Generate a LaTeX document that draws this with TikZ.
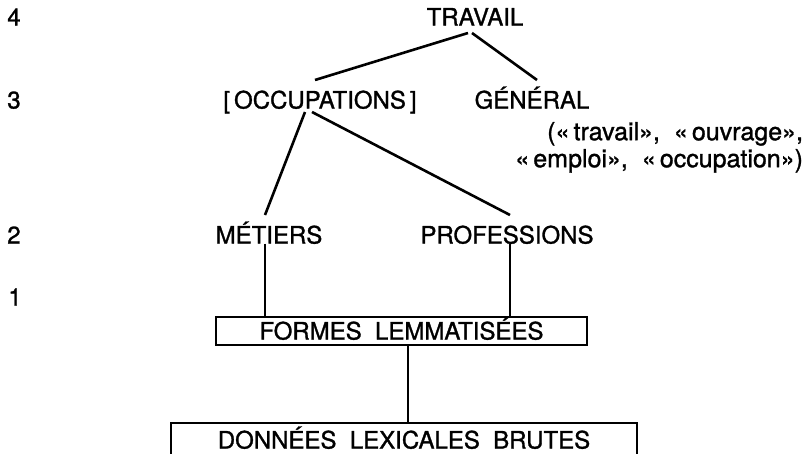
\documentclass[tikz,border=0pt]{standalone}
\usepackage{fontspec}
\setmainfont{TeX Gyre Heros}[FakeBold=1.2]

\begin{document}
\begin{tikzpicture}[x=1pt, y=-1pt, inner sep=0pt, outer sep=0pt,
  every node/.append style={font=\fontsize{24}{28}\selectfont, text height=17pt, text depth=0pt},
  lien/.style={draw=black, line width=2.6pt},
  cadre/.style={draw=black, line width=1.8pt}]
  \useasboundingbox (0,0) rectangle (808,453);

  % niveaux
  \node (niv4) at (14,17) {4};
  \node (niv3) at (14,100) {3};
  \node (niv2) at (14,235) {2};
  \node (niv1) at (15,297) {1};

  \node (travail) at (475,17) {TRAVAIL};
  \node (occupations) at (320,100) {[\,OCCUPATIONS\,]};
  \node (general) at (532,100) {GÉNÉRAL};
  \node[align=right, anchor=north east, text height=, text depth=, font=\fontsize{25}{27}\selectfont] (sens) at (803,122)
    {(«\,travail»,\ \ «\,ouvrage»,\\«\,emploi»,\ \ «\,occupation»)};

  \node (metiers) at (269,235) {MÉTIERS};
  \node (professions) at (507,235) {PROFESSIONS};

  \node[cadre, minimum width=371pt, minimum height=28pt] (formes) at (401.5,331) {FORMES\ \ LEMMATISÉES};
  \node[cadre, minimum width=466pt, minimum height=34pt] (donnees) at (404,440) {DONNÉES\ \ LEXICALES\ \ BRUTES};

  % branches
  \draw[lien] ([xshift=-7pt, yshift=-7.5pt]travail.south) -- ([xshift=-5pt, yshift=11.5pt]occupations.north);
  \draw[lien] ([xshift=-3pt, yshift=-7.5pt]travail.south) -- ([xshift=5pt, yshift=11.5pt]general.north);
  \draw[lien] ([xshift=-15pt, yshift=-3.5pt]occupations.south) -- ([xshift=-4pt, yshift=11.5pt]metiers.north);
  \draw[lien] ([xshift=-8pt, yshift=-3.5pt]occupations.south) -- ([xshift=3pt, yshift=11.5pt]professions.north);

  \draw[lien] ([xshift=-4pt]metiers.south) -- ([xshift=-4pt]metiers.south |- formes.north);
  \draw[lien] ([xshift=3pt]professions.south) -- ([xshift=3pt]professions.south |- formes.north);
  \draw[lien] ([xshift=6.5pt]formes.south) -- ([xshift=6.5pt]formes.south |- donnees.north);

\end{tikzpicture}
\end{document}
